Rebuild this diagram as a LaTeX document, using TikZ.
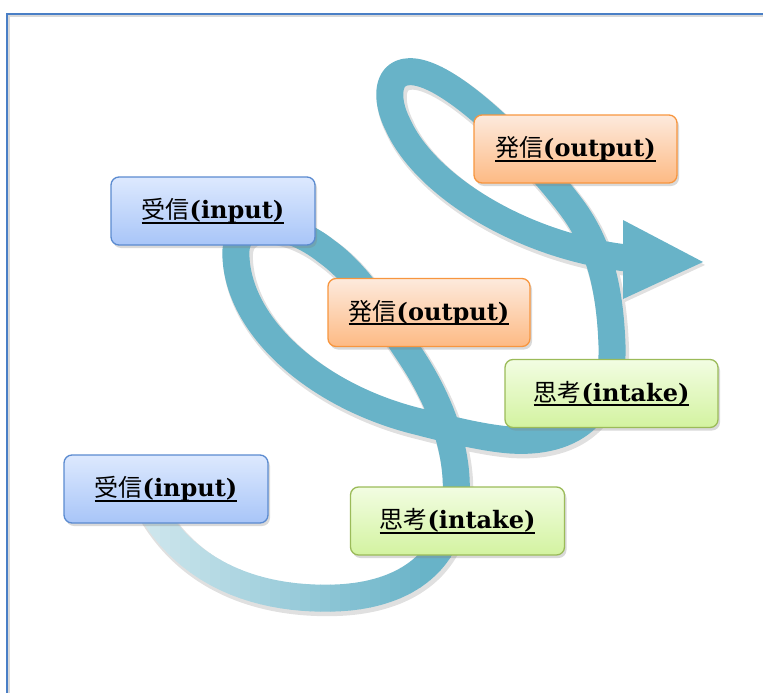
\documentclass[tikz,border=0pt]{standalone}
\usepackage{fontspec}
\setmainfont{DejaVu Serif}
\newfontfamily\jp{Noto Sans CJK JP}
\usetikzlibrary{shadows}
\definecolor{band}{HTML}{68B3C8}
\definecolor{bandlight}{HTML}{E2F0F4}
\definecolor{frameblue}{HTML}{4A7FC6}
\definecolor{inborder}{HTML}{5B8BD0}
\definecolor{intop}{HTML}{DDE9FE}
\definecolor{inbot}{HTML}{A8C5F8}
\definecolor{outborder}{HTML}{F7963F}
\definecolor{outtop}{HTML}{FDEADD}
\definecolor{outbot}{HTML}{FDBA84}
\definecolor{thborder}{HTML}{9BBB59}
\definecolor{thtop}{HTML}{F2FDE2}
\definecolor{thbot}{HTML}{D3F3A0}
\newsavebox\ulbox
\newcommand\ultext[1]{\sbox\ulbox{#1}\usebox\ulbox\llap{\rule[-5pt]{\wd\ulbox}{1.8pt}}}
\tikzset{
  box/.style={rounded corners=8pt, line width=1.3pt, minimum height=68pt, inner sep=0pt,
    font=\fontsize{24}{28}\selectfont,
    drop shadow={shadow xshift=2pt, shadow yshift=-3pt, opacity=0.3}},
  inbox/.style={box, draw=inborder, top color=intop, bottom color=inbot},
  outbox/.style={box, draw=outborder, top color=outtop, bottom color=outbot},
  thbox/.style={box, draw=thborder, top color=thtop, bottom color=thbot},
  bandline/.style={line width=27pt, line cap=butt, line join=round},
  bandshadow/.style={bandline, draw=black, opacity=0.12, line width=30pt},
}
\def\bandA{(150,508) .. controls (195,585) and (275,600) .. (335,598) .. controls (395,596) and (447,570) .. (455,505)}
\def\bandB{(455,507) .. controls (462,455) and (440,400) .. (410,355) .. controls (385,318) and (360,275) .. (326,251) .. controls (290,222) and (232,212) .. (236,258) .. controls (240,330) and (320,398) .. (420,422) .. controls (455,431) and (485,438) .. (510,440) .. controls (585,445) and (614,400) .. (612,345) .. controls (610,290) and (600,248) .. (575,212) .. controls (545,170) and (460,78) .. (415,72) .. controls (385,68) and (385,100) .. (398,125) .. controls (425,185) and (520,245) .. (626,258)}
\def\arrowtri{(623,220) -- (703,262) -- (623,299) -- cycle}
\begin{document}
\begin{tikzpicture}[x=1pt,y=-1pt]
\useasboundingbox (0,0) rectangle (763,693);
% frame
\draw[black, opacity=0.15, line width=2pt] (9,693) -- (9,16) -- (763,16);
\draw[frameblue, line width=2pt] (6.5,693) -- (6.5,14.3) -- (763,14.3);
% band shadow
\begin{scope}[shift={(2,3)}]
  \draw[bandshadow] \bandA;
  \draw[bandshadow] \bandB;
  \fill[black, opacity=0.12] \arrowtri;
\end{scope}
% band: fading start part drawn in strips
\foreach \i in {0,...,33} {
  \pgfmathsetmacro\p{min(100,12+\i*3)}
  \begin{scope}
    \clip (130+\i*10,490) rectangle (140.6+\i*10,640);
    \draw[bandline, draw=band!\p!bandlight] \bandA;
  \end{scope}
}
\draw[bandline, draw=band] \bandB;
\fill[band] \arrowtri;
% boxes
\node[inbox, minimum width=204pt] (in1) at (213,211) {\ultext{{\jp 受信}\textbf{(input)}}};
\node[outbox, minimum width=203pt] (out1) at (575.5,149) {\ultext{{\jp 発信}\textbf{(output)}}};
\node[outbox, minimum width=202pt] (out2) at (429,312.5) {\ultext{{\jp 発信}\textbf{(output)}}};
\node[thbox, minimum width=213pt] (th1) at (611.5,393.5) {\ultext{{\jp 思考}\textbf{(intake)}}};
\node[inbox, minimum width=204pt] (in2) at (166,489) {\ultext{{\jp 受信}\textbf{(input)}}};
\node[thbox, minimum width=214pt] (th2) at (457.5,521) {\ultext{{\jp 思考}\textbf{(intake)}}};
\end{tikzpicture}
\end{document}
